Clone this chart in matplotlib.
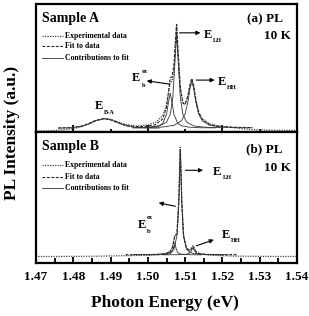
import numpy as np
import matplotlib
matplotlib.use("Agg")
import matplotlib.pyplot as plt
from matplotlib.ticker import MultipleLocator

plt.rcParams['font.family'] = ['Liberation Serif', 'DejaVu Serif']
plt.rcParams['font.weight'] = 'bold'

# ---- Sample A (normalised PL) ----
a_exp_x = [1.470, 1.473, 1.476, 1.479, 1.482, 1.484, 1.486, 1.4883, 1.490, 1.492,
           1.494, 1.497, 1.500, 1.502, 1.504, 1.505, 1.5055, 1.506, 1.5065, 1.507,
           1.5072, 1.5077, 1.5082, 1.5087, 1.5094, 1.510, 1.5108, 1.5113, 1.5118,
           1.5123, 1.5128, 1.5136, 1.5146, 1.5166, 1.5196, 1.524, 1.528, 1.532,
           1.536, 1.540]
a_exp_y = [-0.030, -0.028, -0.020, -0.010, 0.010, 0.035, 0.070, 0.092, 0.085, 0.060,
           0.035, 0.020, 0.030, 0.055, 0.120, 0.220, 0.330, 0.440, 0.460, 0.580,
           0.720, 1.000, 0.690, 0.400, 0.250, 0.235, 0.320, 0.420, 0.470,
           0.410, 0.290, 0.160, 0.090, 0.040, 0.015, 0.000, -0.015, -0.020,
           -0.022, -0.022]

a_fit_x = [1.476, 1.479, 1.482, 1.484, 1.486, 1.4883, 1.490, 1.492, 1.494, 1.497,
           1.500, 1.502, 1.504, 1.505, 1.5055, 1.506, 1.5065, 1.507, 1.5072, 1.5077,
           1.5082, 1.5087, 1.5094, 1.510, 1.5108, 1.5113, 1.5118, 1.5123, 1.5128,
           1.5136, 1.5146, 1.5166, 1.5196, 1.524, 1.528]
a_fit_y = [0.001, 0.004, 0.018, 0.042, 0.075, 0.093, 0.083, 0.055, 0.028, 0.013,
           0.018, 0.033, 0.089, 0.204, 0.344, 0.490, 0.498, 0.615, 0.734, 1.007,
           0.685, 0.386, 0.240, 0.228, 0.319, 0.424, 0.482, 0.409, 0.287,
           0.154, 0.082, 0.034, 0.015, 0.007, 0.004]

a_ba_x = [1.476, 1.479, 1.482, 1.484, 1.486, 1.4883, 1.490, 1.492, 1.494, 1.497, 1.500, 1.503]
a_ba_y = [0.000, 0.002, 0.016, 0.040, 0.072, 0.090, 0.079, 0.050, 0.022, 0.003, 0.000, 0.000]

a_bex_x = [1.496, 1.499, 1.501, 1.503, 1.504, 1.505, 1.5055, 1.506, 1.5065, 1.507,
           1.508, 1.509, 1.511, 1.514, 1.518]
a_bex_y = [0.002, 0.004, 0.009, 0.023, 0.047, 0.133, 0.245, 0.340, 0.245, 0.133,
           0.047, 0.023, 0.009, 0.003, 0.002]

a_lh_x = [1.496, 1.500, 1.503, 1.505, 1.506, 1.5067, 1.5072, 1.5077, 1.5082, 1.5087,
          1.5094, 1.5104, 1.5124, 1.5154, 1.5204]
a_lh_y = [0.003, 0.008, 0.020, 0.057, 0.132, 0.300, 0.600, 0.910, 0.600, 0.300,
          0.132, 0.057, 0.020, 0.008, 0.003]

a_hh_x = [1.500, 1.504, 1.507, 1.509, 1.510, 1.5108, 1.5113, 1.5118, 1.5123, 1.5128,
          1.5136, 1.5146, 1.5166, 1.5196, 1.524, 1.528]
a_hh_y = [0.005, 0.010, 0.027, 0.070, 0.138, 0.266, 0.383, 0.450, 0.383, 0.266,
          0.138, 0.070, 0.027, 0.010, 0.004, 0.003]

# ---- Sample B ----
b_exp_x = [1.470, 1.476, 1.482, 1.488, 1.494, 1.499, 1.502, 1.504, 1.505, 1.506,
           1.5066, 1.5072, 1.5078, 1.5083, 1.5087, 1.5091, 1.5096, 1.5103, 1.5111,
           1.5116, 1.5121, 1.5126, 1.5131, 1.514, 1.516, 1.520, 1.524, 1.530,
           1.535, 1.540]
b_exp_y = [-0.015, -0.015, -0.014, -0.012, -0.008, -0.005, 0.000, 0.005, 0.012, 0.035,
           0.075, 0.170, 0.200, 0.520, 1.000, 0.500, 0.170, 0.065, 0.045,
           0.060, 0.085, 0.050, 0.025, 0.010, 0.000, -0.008, -0.012, -0.014,
           -0.015, -0.015]

b_fit_x = [1.494, 1.499, 1.502, 1.504, 1.505, 1.506, 1.5066, 1.5072, 1.5078, 1.5083,
           1.5087, 1.5091, 1.5096, 1.5103, 1.5111, 1.5116, 1.5121, 1.5126, 1.5131,
           1.514, 1.516, 1.520, 1.524]
b_fit_y = [0.001, 0.002, 0.004, 0.009, 0.015, 0.032, 0.068, 0.175, 0.195, 0.500,
           0.979, 0.491, 0.166, 0.063, 0.040, 0.052, 0.079, 0.043, 0.021,
           0.010, 0.004, 0.002, 0.001]

b_lh_x = [1.496, 1.500, 1.503, 1.505, 1.506, 1.507, 1.5079, 1.5083, 1.5087, 1.5091,
          1.5095, 1.5104, 1.5114, 1.5124, 1.5144, 1.5174, 1.5214]
b_lh_y = [0.001, 0.002, 0.005, 0.011, 0.021, 0.051, 0.194, 0.485, 0.970, 0.485,
          0.194, 0.051, 0.021, 0.011, 0.005, 0.002, 0.001]

b_bex_x = [1.500, 1.503, 1.505, 1.506, 1.5064, 1.5068, 1.5072, 1.5076, 1.508, 1.5084,
           1.5094, 1.5114, 1.5144]
b_bex_y = [0.000, 0.001, 0.004, 0.011, 0.022, 0.055, 0.110, 0.055, 0.022, 0.011,
           0.004, 0.001, 0.000]

b_hh_x = [1.504, 1.508, 1.510, 1.511, 1.5116, 1.5121, 1.5126, 1.5132, 1.5142, 1.5162, 1.5202]
b_hh_y = [0.000, 0.001, 0.004, 0.011, 0.033, 0.065, 0.033, 0.011, 0.004, 0.001, 0.000]

xticks = [1.47, 1.48, 1.49, 1.50, 1.51, 1.52, 1.53, 1.54]

EXP_KW = dict(color='#444444', linestyle=(0, (1, 1)), linewidth=0.9)
FIT_KW = dict(color='#222222', linestyle=(0, (2.5, 1.5)), linewidth=0.8)
CON_KW = dict(color='#333333', linestyle='-', linewidth=0.6)


def draw_panel(ax, exp, fit, comps, ylim):
    ax.plot(*exp, **EXP_KW)
    ax.plot(*fit, **FIT_KW)
    for cx, cy in comps:
        ax.plot(cx, cy, **CON_KW)
    ax.set_xlim(1.47, 1.54)
    ax.set_ylim(*ylim)
    ax.set_yticks([])
    for s in ax.spines.values():
        s.set_linewidth(1.6)
    return ax


def legend(ax, ys):
    # legend drawn by hand, like the original
    labels = ['Experimental data', 'Fit to data', 'Contributions to fit']
    kws = [EXP_KW, FIT_KW, CON_KW]
    for lab, kw, y in zip(labels, kws, ys):
        ax.plot([0.022, 0.102], [y, y], transform=ax.transAxes, **kw)
        ax.text(0.111, y, lab, transform=ax.transAxes, fontsize=5.6,
                fontweight='bold', va='center', ha='left')


def elabel(ax, x, y, main, sub=None, sup=None, dx=0.0025, dsub=-0.055, dsup=0.06):
    ax.text(x, y, main, fontsize=9, fontweight='bold', va='center', ha='left')
    if sub:
        ax.text(x + dx, y + dsub, sub, fontsize=4.6, fontweight='bold',
                va='center', ha='left')
    if sup:
        ax.text(x + dx, y + dsup, sup, fontsize=4.6, fontweight='bold',
                va='center', ha='left')


def arrow(ax, start, end):
    ax.annotate('', xy=end, xytext=start,
                arrowprops=dict(arrowstyle='-|>', color='black', lw=0.8,
                                mutation_scale=6, shrinkA=0, shrinkB=0))


fig = plt.figure(figsize=(3.09, 3.16), dpi=100)
axA = fig.add_axes([0.1165, 0.582, 0.8447, 0.405])
axB = fig.add_axes([0.1165, 0.168, 0.8447, 0.414])

draw_panel(axA, (a_exp_x, a_exp_y), (a_fit_x, a_fit_y),
           [(a_ba_x, a_ba_y), (a_bex_x, a_bex_y), (a_lh_x, a_lh_y), (a_hh_x, a_hh_y)],
           (-0.039, 1.204))
draw_panel(axB, (b_exp_x, b_exp_y), (b_fit_x, b_fit_y),
           [(b_lh_x, b_lh_y), (b_bex_x, b_bex_y), (b_hh_x, b_hh_y)],
           (-0.075, 1.14))

# ticks
axA.xaxis.set_major_locator(MultipleLocator(0.02))
axA.xaxis.set_minor_locator(MultipleLocator(0.01))
axA.tick_params(axis='x', which='major', direction='in', length=5, width=1.3,
                labelbottom=False)
axA.tick_params(axis='x', which='minor', direction='in', length=2.5, width=1.3)

axB.set_xticks(xticks)
axB.set_xticklabels(['%.2f' % t for t in xticks])
axB.xaxis.set_minor_locator(MultipleLocator(0.005))
axB.tick_params(axis='x', which='major', direction='in', length=4.5, width=1.3,
                labelsize=9.5, pad=6)
axB.tick_params(axis='x', which='minor', direction='in', length=3.5, width=1.3)
for lab in axB.get_xticklabels():
    lab.set_fontweight('bold')

# panel text
axA.text(0.022, 0.859, 'Sample A', transform=axA.transAxes, fontsize=10,
         fontweight='bold', va='baseline')
axA.text(0.946, 0.859, '(a) PL', transform=axA.transAxes, fontsize=9.5,
         fontweight='bold', va='baseline', ha='right')
axA.text(0.977, 0.724, '10 K', transform=axA.transAxes, fontsize=9.5,
         fontweight='bold', va='baseline', ha='right')
legend(axA, [0.754, 0.672, 0.578])

axB.text(0.022, 0.862, 'Sample B', transform=axB.transAxes, fontsize=10,
         fontweight='bold', va='baseline')
axB.text(0.946, 0.846, '(b) PL', transform=axB.transAxes, fontsize=9.5,
         fontweight='bold', va='baseline', ha='right')
axB.text(0.977, 0.702, '10 K', transform=axB.transAxes, fontsize=9.5,
         fontweight='bold', va='baseline', ha='right')
legend(axB, [0.746, 0.654, 0.569])

# peak labels, panel A
elabel(axA, 1.5150, 0.908, 'E', sub='LH')
arrow(axA, (1.5085, 0.925), (1.5141, 0.925))
elabel(axA, 1.5187, 0.451, 'E', sub='HH')
arrow(axA, (1.5130, 0.466), (1.5179, 0.466))
elabel(axA, 1.4958, 0.487, 'E', sub='b', sup='ex', dsub=-0.075, dsup=0.065)
arrow(axA, (1.5058, 0.427), (1.4997, 0.459))
elabel(axA, 1.4858, 0.211, 'E', sub='B-A')

# peak labels, panel B
elabel(axB, 1.5175, 0.766, 'E', sub='LH', dsub=-0.052)
arrow(axB, (1.5101, 0.785), (1.5148, 0.785))
elabel(axB, 1.5197, 0.187, 'E', sub='HH', dsub=-0.052)
arrow(axB, (1.5130, 0.084), (1.5177, 0.140))
elabel(axB, 1.4973, 0.276, 'E', sub='b', sup='ex', dsub=-0.062, dsup=0.07)
arrow(axB, (1.5074, 0.451), (1.5029, 0.483))

fig.text(0.535, 0.04, 'Photon Energy (eV)', fontsize=12.5, fontweight='bold',
         ha='center', va='center')
fig.text(0.038, 0.58, 'PL Intensity (a.u.)', fontsize=12.5, fontweight='bold',
         ha='center', va='center', rotation=90)

fig.savefig('out.png', dpi=100)
